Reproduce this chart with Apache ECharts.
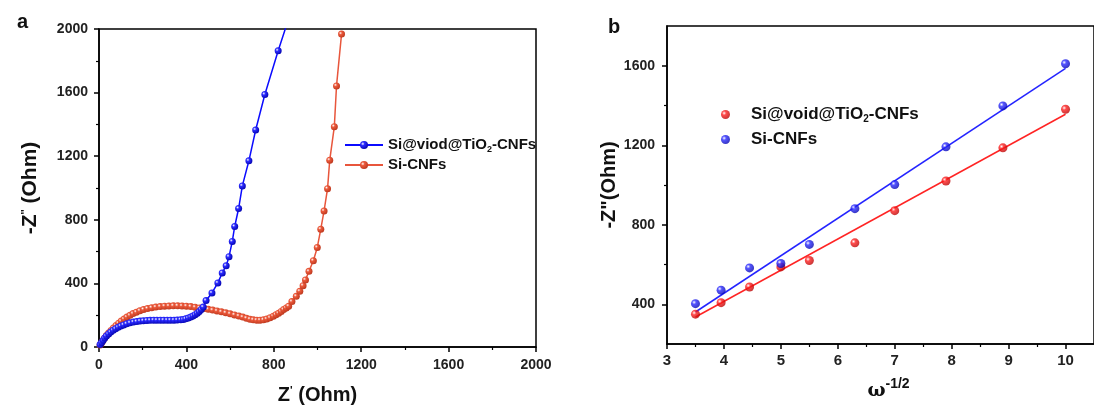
<!DOCTYPE html>
<html><head><meta charset="utf-8">
<script src="https://cdn.jsdelivr.net/npm/echarts@6/dist/echarts.min.js"></script>
<style>html,body{margin:0;padding:0;background:#fff}#c{width:1094px;height:412px}</style>
</head><body><div id="c"></div>
<script>
// ---- Panel a : Nyquist plots [Z', -Z''] ----
const aBlue = [[5,15],[12,28],[19,42],[26,56],[34,69],[44,82],[54,94],[65,105],[76,115],[88,124],[100,132],[113,139],[127,146],[142,152],[158,157],[173,160],[188,163],[203,165],[219,167],[234,168],[250,169],[265,169],[281,169],[296,169],[312,169],[327,169],[343,169],[358,170],[374,171],[386,173],[397,177],[409,182],[420,188],[430,195],[440,203],[450,212],[459,223],[468,236],[477,251],[490,292],[517,340],[544,403],[564,466],[582,511],[595,568],[610,664],[621,758],[639,871],[656,1013],[686,1171],[717,1365],[759,1588],[820,1863],[862,2040]];
const aRed = [[5,12],[10,24],[17,38],[25,55],[34,72],[44,88],[55,104],[66,120],[78,135],[90,150],[102,163],[115,176],[128,188],[142,199],[156,210],[171,219],[187,228],[204,236],[222,242],[241,247],[260,251],[280,254],[300,257],[320,258],[340,259],[360,259],[380,258],[400,257],[420,254],[440,250],[460,246],[480,242],[500,237],[520,232],[540,227],[560,221],[580,215],[600,209],[620,202],[640,195],[658,188],[675,181],[691,175],[706,171],[722,169],[737,169],[753,171],[768,176],[783,184],[798,194],[810,203],[822,213],[834,224],[845,236],[857,246],[868,257],[883,286],[903,319],[919,351],[934,386],[945,422],[961,476],[981,543],[999,626],[1015,741],[1030,856],[1046,996],[1056,1175],[1077,1386],[1087,1642],[1110,1968]];
// ---- Panel b : -Z'' vs omega^-1/2 ----
const bX = [3.5,3.95,4.45,5,5.5,6.3,7,7.9,8.9,10];
const bRedY = [350,408,487,588,620,709,871,1020,1187,1381];
const bBlueY = [403,471,583,605,701,881,1002,1192,1398,1610];
const bFitX = [3.5,10];
const bRedFitY = [336,1356];
const bBlueFitY = [361,1587];
const bXTicks = [3,4,5,6,7,8,9,10];
const bXMinor = [3.5,4.5,5.5,6.5,7.5,8.5,9.5];
const bYTicks = [400,800,1200,1600];
const bYMinor = [600,1000,1400];

const legendText = {
  aT:'Si@viod@TiO{sub|2}-CNFs', aS:'Si-CNFs',
  bT:'Si@void@TiO{sub|2}-CNFs', bS:'Si-CNFs'
};

const FF = '"Liberation Sans", Arial, sans-serif';
function ball(c, dark){
  return {type:'radial', x:0.35, y:0.35, r:0.75, colorStops:[
    {offset:0,color:'#ffffff'},{offset:0.3,color:c},{offset:1,color:dark}]};
}
const lineBlack = {color:'#000', width:1.5};
const plain = v => String(v);
const tickLabel = {fontSize:14, fontWeight:'bold', color:'#222', fontFamily:FF, formatter:plain};

const chart = echarts.init(document.getElementById('c'), null, {renderer:'canvas'});
chart.setOption({
  animation:false,
  backgroundColor:'#fff',
  title:[
    {text:'a', left:12, top:7, textStyle:{fontSize:20, fontWeight:'bold', color:'#111', fontFamily:FF}},
    {text:'b', left:603, top:12, textStyle:{fontSize:20, fontWeight:'bold', color:'#111', fontFamily:FF}}
  ],
  grid:[
    {left:99, top:29, right:558, bottom:65, show:true, borderColor:'#000', borderWidth:1.5, containLabel:false},
    {left:667, top:26, right:-7, bottom:68, show:true, borderColor:'#000', borderWidth:1.5, containLabel:false}
  ],
  legend:[
    {data:['aT','aS'], orient:'vertical', left:339, top:131, itemWidth:38, itemHeight:10, itemGap:2,
     formatter:n=>legendText[n],
     textStyle:{fontSize:15, fontWeight:'bold', color:'#111', fontFamily:FF, lineHeight:18,
       rich:{sub:{fontSize:9, fontWeight:'bold', color:'#111', fontFamily:FF, verticalAlign:'bottom', lineHeight:18}}}},
    {data:['bT','bS'], orient:'vertical', left:716, top:100, itemWidth:41, itemHeight:9, itemGap:6,
     formatter:n=>legendText[n],
     textStyle:{fontSize:17, fontWeight:'bold', color:'#111', fontFamily:FF, lineHeight:19,
       rich:{sub:{fontSize:10, fontWeight:'bold', color:'#111', fontFamily:FF, verticalAlign:'bottom', lineHeight:19}}}}
  ],
  xAxis:[
    {gridIndex:0, type:'value', min:0, max:2000, interval:400, position:'bottom',
     axisLine:{lineStyle:lineBlack}, axisTick:{length:5, lineStyle:lineBlack},
     minorTick:{show:true, splitNumber:2, length:3, lineStyle:{color:'#000', width:1.2}},
     splitLine:{show:false}, minorSplitLine:{show:false},
     axisLabel:Object.assign({margin:11}, tickLabel),
     name:"Z{sup|'} (Ohm)", nameLocation:'middle', nameGap:38,
     nameTextStyle:{fontSize:20, fontWeight:'bold', color:'#111', fontFamily:FF,
       rich:{sup:{fontSize:11, fontWeight:'bold', color:'#111', verticalAlign:'top', fontFamily:FF}}}},
    {gridIndex:1, type:'value', min:3, max:10.5, interval:1, position:'bottom',
     axisLine:{lineStyle:lineBlack}, axisTick:{length:5, lineStyle:lineBlack, customValues:bXTicks},
     splitLine:{show:false},
     axisLabel:Object.assign({margin:9, customValues:bXTicks}, tickLabel, {fontSize:15}),
     name:'ω{sup|-1/2}', nameLocation:'middle', nameGap:33,
     nameTextStyle:{fontSize:19, fontWeight:'bold', color:'#111', fontFamily:'"DejaVu Serif", serif', padding:[0,0,0,16],
       rich:{sup:{fontSize:14, fontWeight:'bold', color:'#111', fontFamily:FF, verticalAlign:'top', padding:[0,0,14,0]}}}},
    {gridIndex:1, type:'value', min:3, max:10.5, interval:1, position:'bottom',
     axisLine:{show:false}, axisTick:{length:3, lineStyle:{color:'#000', width:1.2}, customValues:bXMinor},
     axisLabel:{show:false}, splitLine:{show:false}}
  ],
  yAxis:[
    {gridIndex:0, type:'value', min:0, max:2000, interval:400, position:'left',
     axisLine:{lineStyle:lineBlack}, axisTick:{length:5, lineStyle:lineBlack},
     minorTick:{show:true, splitNumber:2, length:3, lineStyle:{color:'#000', width:1.2}},
     splitLine:{show:false}, minorSplitLine:{show:false},
     axisLabel:Object.assign({margin:11}, tickLabel),
     name:"-Z{sup|''} (Ohm)", nameLocation:'middle', nameGap:58,
     nameTextStyle:{fontSize:21, fontWeight:'bold', color:'#111', fontFamily:FF,
       rich:{sup:{fontSize:11, fontWeight:'bold', color:'#111', verticalAlign:'top', fontFamily:FF}}}},
    {gridIndex:1, type:'value', min:200, max:1800, interval:200, position:'left',
     axisLine:{lineStyle:lineBlack}, axisTick:{length:5, lineStyle:lineBlack, customValues:bYTicks},
     splitLine:{show:false},
     axisLabel:Object.assign({margin:12, customValues:bYTicks}, tickLabel),
     name:'-Z"(Ohm)', nameLocation:'middle', nameGap:43,
     nameTextStyle:{fontSize:20, fontWeight:'bold', color:'#111', fontFamily:FF}},
    {gridIndex:1, type:'value', min:200, max:1800, interval:200, position:'left',
     axisLine:{show:false}, axisTick:{length:3, lineStyle:{color:'#000', width:1.2}, customValues:bYMinor},
     axisLabel:{show:false}, splitLine:{show:false}}
  ],
  series:[
    {name:'aT', type:'line', xAxisIndex:0, yAxisIndex:0, clip:true, symbol:'circle', symbolSize:7,
     data:aBlue.map(p=>p[1]>2000?{value:p, symbol:'none'}:p),
     lineStyle:{color:'#0b0bff', width:1.5}, itemStyle:{color:ball('#2b2bff','#0000a8')}, z:3},
    {name:'aS', type:'line', xAxisIndex:0, yAxisIndex:0, clip:true, symbol:'circle', symbolSize:7,
     data:aRed, lineStyle:{color:'#e8563c', width:1.5}, itemStyle:{color:ball('#ec5a3c','#b8341a')}, z:2},
    {name:'bTfit', type:'line', xAxisIndex:1, yAxisIndex:1, symbol:'none',
     data:bFitX.map((x,i)=>[x,bRedFitY[i]]), lineStyle:{color:'#ff2424', width:1.5}, z:2},
    {name:'bSfit', type:'line', xAxisIndex:1, yAxisIndex:1, symbol:'none',
     data:bFitX.map((x,i)=>[x,bBlueFitY[i]]), lineStyle:{color:'#2424ff', width:1.5}, z:2},
    {name:'bT', type:'scatter', xAxisIndex:1, yAxisIndex:1, symbol:'circle', symbolSize:9,
     data:bX.map((x,i)=>[x,bRedY[i]]), itemStyle:{color:ball('#ff2020','#b00000')}, z:4},
    {name:'bS', type:'scatter', xAxisIndex:1, yAxisIndex:1, symbol:'circle', symbolSize:9,
     data:bX.map((x,i)=>[x,bBlueY[i]]), itemStyle:{color:ball('#2a2aff','#0000a8')}, z:4}
  ]
});
</script></body></html>
